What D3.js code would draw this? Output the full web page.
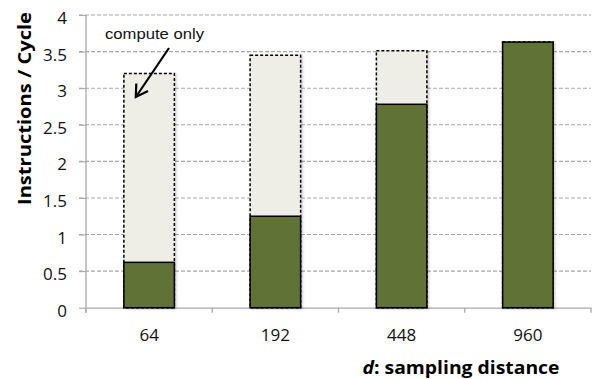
<!DOCTYPE html>
<html>
<head>
<meta charset="utf-8">
<script src="https://cdn.jsdelivr.net/npm/d3@7"></script>
<style>
  html, body { margin: 0; padding: 0; background: #fff; }
  svg { display: block; }
</style>
</head>
<body>
<svg id="chart" width="595" height="379"></svg>
<script>
// Sampling distance categories and instruction throughput
const categories = ["64", "192", "448", "960"];
const computeOnly = [3.2, 3.45, 3.51, 3.63];   // dashed upper bound (compute only)
const measured = [0.62, 1.25, 2.78, 3.63];     // measured IPC
const yTicks = [0, 0.5, 1, 1.5, 2, 2.5, 3, 3.5, 4];
const yTickLabels = ["0", "0.5", "1", "1.5", "2", "2.5", "3", "3.5", "4"];

const svg = d3.select("#chart");
const plotLeft = 86, plotRight = 591, plotTop = 15, plotBottom = 307.7;

const x = d3.scaleBand().domain(categories).range([plotLeft, plotRight]).padding(0);
const y = d3.scaleLinear().domain([0, 4]).range([plotBottom, plotTop]);
const barW = x.step() * 0.4;
const barX = c => x(c) + (x.step() - barW) / 2;

const defs = svg.append("defs");
const f = defs.append("filter").attr("id", "shadow")
  .attr("x", "-20%").attr("y", "-10%").attr("width", "140%").attr("height", "120%");
f.append("feDropShadow").attr("dx", 1.5).attr("dy", 1).attr("stdDeviation", 1.2)
  .attr("flood-color", "#000").attr("flood-opacity", 0.22);

// Gridlines
svg.append("g").selectAll("line").data(yTicks.filter(t => t > 0)).join("line")
  .attr("x1", plotLeft - 7).attr("x2", plotRight)
  .attr("y1", d => y(d)).attr("y2", d => y(d))
  .attr("stroke", "#a8a8a8").attr("stroke-width", 1.1)
  .attr("stroke-dasharray", "4,2");

// Y axis
const yAxis = d3.axisLeft(y).tickValues(yTicks)
  .tickFormat((d, i) => yTickLabels[i]).tickSize(7).tickPadding(12);
const gy = svg.append("g").attr("transform", `translate(${plotLeft},0)`).call(yAxis);
gy.select(".domain").remove();
gy.selectAll(".tick line").attr("stroke", "#a8a8a8").attr("stroke-width", 1.1);
gy.selectAll(".tick text").attr("font-family", "'Open Sans', sans-serif")
  .attr("font-size", "17px").attr("fill", "#111").attr("dy", "0.5em");
svg.append("line").attr("x1", plotLeft).attr("x2", plotLeft).attr("y1", plotTop).attr("y2", plotBottom + 5)
  .attr("stroke", "#a8a8a8").attr("stroke-width", 1.3);

// X axis
const xAxis = d3.axisBottom(x).tickSize(0).tickPadding(21);
const gx = svg.append("g").attr("transform", `translate(0,${plotBottom})`).call(xAxis);
gx.select(".domain").attr("stroke", "#a8a8a8").attr("stroke-width", 1.3);
gx.selectAll(".tick text").attr("font-family", "'Open Sans', sans-serif")
  .attr("font-size", "17px").attr("fill", "#111");
const edges = categories.map(c => x(c)).concat([plotRight]);
svg.append("g").selectAll("line").data(edges).join("line")
  .attr("x1", d => d).attr("x2", d => d).attr("y1", plotBottom).attr("y2", plotBottom + 5)
  .attr("stroke", "#a8a8a8").attr("stroke-width", 1.3);

// Compute-only bars (dashed outline)
svg.append("g").selectAll("rect").data(categories).join("rect")
  .attr("x", c => barX(c)).attr("width", barW)
  .attr("y", (c, i) => y(computeOnly[i]))
  .attr("height", (c, i) => plotBottom - y(computeOnly[i]))
  .attr("fill", "#eeeee6").attr("stroke", "#000").attr("stroke-width", 1.5)
  .attr("stroke-dasharray", "3,2").attr("filter", "url(#shadow)");

// Measured bars
svg.append("g").selectAll("rect").data(categories).join("rect")
  .attr("x", c => barX(c)).attr("width", barW)
  .attr("y", (c, i) => y(measured[i]))
  .attr("height", (c, i) => plotBottom - y(measured[i]))
  .attr("fill", "#617236").attr("stroke", "#000").attr("stroke-width", 1.5);

// Annotation
svg.append("text").attr("x", 105).attr("y", 39)
  .attr("font-family", "Arial, 'Liberation Sans', sans-serif").attr("font-size", "15px")
  .attr("textLength", 99).attr("lengthAdjust", "spacingAndGlyphs")
  .attr("fill", "#111").text("compute only");
svg.append("line").attr("x1", 169).attr("y1", 48).attr("x2", 136.5).attr("y2", 96)
  .attr("stroke", "#000").attr("stroke-width", 2.2);
svg.append("path").attr("d", "M136.3,83.5 L135.8,97 L148,91")
  .attr("fill", "none").attr("stroke", "#000").attr("stroke-width", 2.2);

// Axis titles
svg.append("text")
  .attr("transform", "translate(31,108.5) rotate(-90)")
  .attr("text-anchor", "middle")
  .attr("font-family", "'Open Sans', sans-serif").attr("font-weight", "bold")
  .attr("font-size", "18px").attr("textLength", 193).attr("lengthAdjust", "spacingAndGlyphs")
  .attr("fill", "#000").text("Instructions / Cycle");

const xt = svg.append("text").attr("x", 362.5).attr("y", 373.5)
  .attr("font-family", "'Open Sans', sans-serif").attr("font-weight", "bold")
  .attr("font-size", "17.5px").attr("textLength", 197).attr("lengthAdjust", "spacingAndGlyphs")
  .attr("fill", "#000");
xt.append("tspan").attr("font-style", "italic").text("d");
xt.append("tspan").text(": sampling distance");
</script>
</body>
</html>
